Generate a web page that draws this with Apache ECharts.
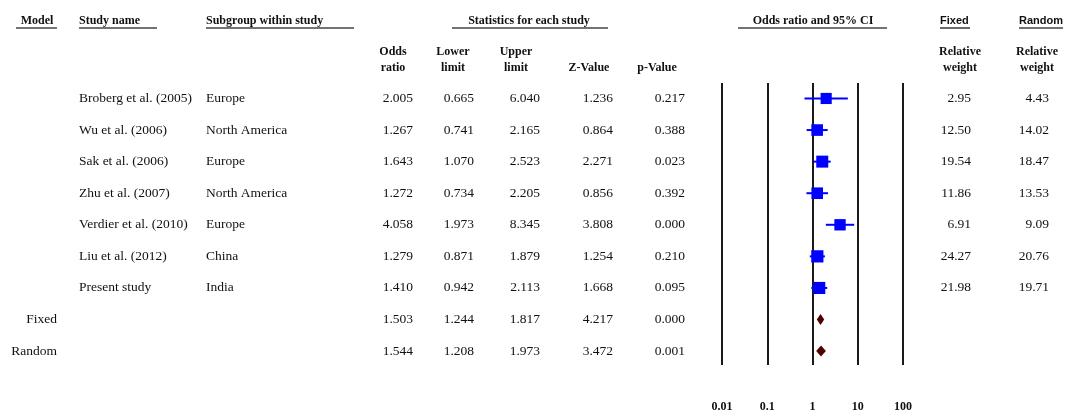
<!DOCTYPE html>
<html>
<head>
<meta charset="utf-8">
<script src="https://cdn.jsdelivr.net/npm/echarts@6/dist/echarts.min.js"></script>
<style>
  html, body { margin: 0; padding: 0; background: #fff; }
  #chart { width: 1075px; height: 413px; }
</style>
</head>
<body>
<div id="chart"></div>
<script>
// Individual studies
const studies = ['Broberg et al. (2005)', 'Wu et al. (2006)', 'Sak et al. (2006)', 'Zhu et al. (2007)',
                 'Verdier et al. (2010)', 'Liu et al. (2012)', 'Present study'];
const subgroups = ['Europe', 'North America', 'Europe', 'North America', 'Europe', 'China', 'India'];
const oddsRatio = [2.005, 1.267, 1.643, 1.272, 4.058, 1.279, 1.410];
const lowerLimit = [0.665, 0.741, 1.070, 0.734, 1.973, 0.871, 0.942];
const upperLimit = [6.040, 2.165, 2.523, 2.205, 8.345, 1.879, 2.113];
const zValue = [1.236, 0.864, 2.271, 0.856, 3.808, 1.254, 1.668];
const pValue = [0.217, 0.388, 0.023, 0.392, 0.000, 0.210, 0.095];
const fixedWeight = [2.95, 12.50, 19.54, 11.86, 6.91, 24.27, 21.98];
const randomWeight = [4.43, 14.02, 18.47, 13.53, 9.09, 20.76, 19.71];

// Pooled estimates
const models = ['Fixed', 'Random'];
const modelOR = [1.503, 1.544];
const modelLower = [1.244, 1.208];
const modelUpper = [1.817, 1.973];
const modelZ = [4.217, 3.472];
const modelP = [0.000, 0.001];

// Log-scale tick labels
const axisTicks = ['0.01', '0.1', '1', '10', '100'];

const SERIF = "'Liberation Serif', 'Times New Roman', serif";
const SANS = "'Liberation Sans', Arial, sans-serif";
const INK = '#111';

const nStudies = studies.length;
const rowIndex = [];
for (let i = 0; i < nStudies + models.length; i++) rowIndex.push([1, i]);

// Column layout of the table (x positions in px)
const COL = {
  model: 57, study: 79, subgroup: 206,
  or: 413, lower: 474, upper: 540, z: 613, p: 685,
  fixed: 971, random: 1049
};

function cell(text, x, y, align) {
  return {
    type: 'text',
    style: {
      text: text, x: x, y: y, align: align, verticalAlign: 'middle',
      fontFamily: SERIF, fontSize: 13.5, fill: INK
    }
  };
}

function renderTableRow(params, api) {
  const i = api.value(1);
  const y = api.coord([1, i])[1];
  const kids = [];
  if (i < nStudies) {
    kids.push(cell(studies[i], COL.study, y, 'left'));
    kids.push(cell(subgroups[i], COL.subgroup, y, 'left'));
    kids.push(cell(oddsRatio[i].toFixed(3), COL.or, y, 'right'));
    kids.push(cell(lowerLimit[i].toFixed(3), COL.lower, y, 'right'));
    kids.push(cell(upperLimit[i].toFixed(3), COL.upper, y, 'right'));
    kids.push(cell(zValue[i].toFixed(3), COL.z, y, 'right'));
    kids.push(cell(pValue[i].toFixed(3), COL.p, y, 'right'));
    kids.push(cell(fixedWeight[i].toFixed(2), COL.fixed, y, 'right'));
    kids.push(cell(randomWeight[i].toFixed(2), COL.random, y, 'right'));
  } else {
    const k = i - nStudies;
    kids.push(cell(models[k], COL.model, y, 'right'));
    kids.push(cell(modelOR[k].toFixed(3), COL.or, y, 'right'));
    kids.push(cell(modelLower[k].toFixed(3), COL.lower, y, 'right'));
    kids.push(cell(modelUpper[k].toFixed(3), COL.upper, y, 'right'));
    kids.push(cell(modelZ[k].toFixed(3), COL.z, y, 'right'));
    kids.push(cell(modelP[k].toFixed(3), COL.p, y, 'right'));
  }
  return { type: 'group', children: kids };
}

// Study estimate: CI whisker plus a square scaled by fixed-effect weight
function renderStudy(params, api) {
  const i = params.dataIndex;
  const lo = api.coord([api.value(1), i]);
  const hi = api.coord([api.value(2), i]);
  const c = api.coord([api.value(0), i]);
  const s = 11 + api.value(3) / 20;
  return {
    type: 'group',
    children: [
      { type: 'line', shape: { x1: lo[0], y1: lo[1], x2: hi[0], y2: hi[1] },
        style: { stroke: '#0000ff', lineWidth: 2 } },
      { type: 'rect', shape: { x: c[0] - s / 2, y: c[1] - s / 2, width: s, height: s },
        style: { fill: '#0000ff' } }
    ]
  };
}

// Pooled estimate: diamond spanning the confidence interval
function renderPooled(params, api) {
  const row = nStudies + params.dataIndex;
  const lo = api.coord([api.value(1), row]);
  const hi = api.coord([api.value(2), row]);
  const c = api.coord([api.value(0), row]);
  const h = 5.5;
  return {
    type: 'polygon',
    shape: { points: [[lo[0], c[1]], [c[0], c[1] - h], [hi[0], c[1]], [c[0], c[1] + h]] },
    style: { fill: '#4d0000' }
  };
}

function hText(text, x, y, align, extra) {
  return {
    type: 'text', x: x, y: y, silent: true,
    style: Object.assign({
      text: text, align: align, verticalAlign: 'middle',
      fontFamily: SERIF, fontWeight: 'bold', fontSize: 12, fill: INK, lineHeight: 16
    }, extra || {})
  };
}
function uLine(x1, x2, y) {
  return { type: 'line', silent: true, shape: { x1: x1, y1: y, x2: x2, y2: y },
           style: { stroke: '#444', lineWidth: 1.6 } };
}

const headerY = 21, underY = 28;
const weightHead = { fontFamily: SANS, fontSize: 11 };
const graphics = [
  hText('Model', 37, headerY, 'center'), uLine(16, 57, underY),
  hText('Study name', 79, headerY, 'left'), uLine(79, 157, underY),
  hText('Subgroup within study', 206, headerY, 'left'), uLine(206, 354, underY),
  hText('Statistics for each study', 529, headerY, 'center'), uLine(452, 608, underY),
  hText('Odds ratio and 95% CI', 813, headerY, 'center'), uLine(738, 887, underY),
  hText('Fixed', 940, headerY, 'left', weightHead), uLine(940, 970, underY),
  hText('Random', 1063, headerY, 'right', weightHead), uLine(1019, 1063, underY),
  hText('Odds\nratio', 393, 60, 'center'),
  hText('Lower\nlimit', 453, 60, 'center'),
  hText('Upper\nlimit', 516, 60, 'center'),
  hText('Z-Value', 589, 68, 'center'),
  hText('p-Value', 657, 68, 'center'),
  hText('Relative\nweight', 960, 60, 'center'),
  hText('Relative\nweight', 1037, 60, 'center')
];

const chart = echarts.init(document.getElementById('chart'));
chart.setOption({
  animation: false,
  backgroundColor: '#fff',
  grid: { left: 722, right: 172, top: 83, bottom: 48 },
  xAxis: {
    type: 'log', logBase: 10, min: 0.01, max: 100,
    axisLine: { show: false }, axisTick: { show: false },
    splitLine: { show: true, lineStyle: { color: '#1a1a1a', width: 2 } },
    axisLabel: {
      margin: 36, fontFamily: SERIF, fontWeight: 'bold', fontSize: 12, color: INK,
      formatter: function (v) { return axisTicks[Math.round(Math.log10(v)) + 2]; }
    }
  },
  yAxis: {
    type: 'value', inverse: true, min: -0.49, max: 8.44, show: false
  },
  graphic: graphics,
  series: [
    {
      type: 'custom', name: 'studies', clip: false, silent: true,
      renderItem: renderStudy,
      encode: { x: 0, y: -1 },
      data: oddsRatio.map((v, i) => [v, lowerLimit[i], upperLimit[i], fixedWeight[i]])
    },
    {
      type: 'custom', name: 'pooled', clip: false, silent: true,
      renderItem: renderPooled,
      encode: { x: 0, y: -1 },
      data: modelOR.map((v, k) => [v, modelLower[k], modelUpper[k]])
    },
    {
      type: 'custom', name: 'table', clip: false, silent: true,
      renderItem: renderTableRow,
      encode: { x: 0, y: 1 },
      data: rowIndex
    }
  ]
});
</script>
</body>
</html>
